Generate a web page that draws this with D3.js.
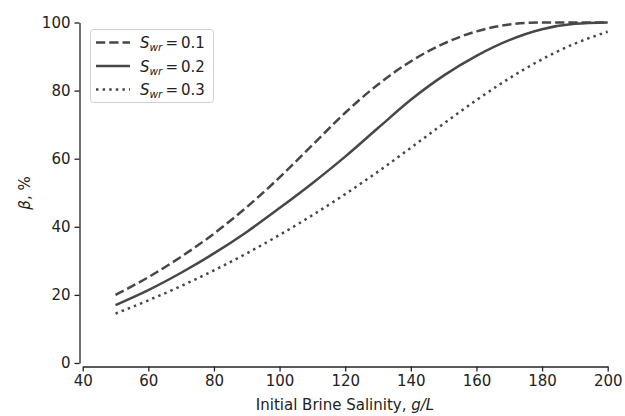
<!DOCTYPE html>
<html>
<head>
<meta charset="utf-8">
<script src="https://d3js.org/d3.v7.min.js"></script>
<style>
  body { margin: 0; background: #fff; }
  text { font-family: "DejaVu Sans", sans-serif; fill: #222; }
</style>
</head>
<body>
<div class="chart"></div>
<script>
// salinity, g/L
const salinity = [50, 60, 70, 80, 90, 100, 110, 120, 130, 140, 150, 160, 170, 180, 190, 200];
// beta, % for each residual water saturation
const betaSwr01 = [20, 25.2, 31.2, 38, 45.8, 54.5, 64, 73.5, 81.8, 88.6, 93.8, 97.4, 99.4, 100, 100, 100];
const betaSwr02 = [17, 21.4, 26.5, 32.2, 38.5, 45.5, 52.8, 60.6, 69, 77.3, 84.4, 90.2, 94.8, 98, 99.6, 100];
const betaSwr03 = [14.5, 18.4, 22.6, 27.2, 32.2, 37.6, 43.4, 49.6, 56.2, 63.2, 70.3, 77.2, 83.6, 89.2, 93.8, 97.3];

const xTicks = [40, 60, 80, 100, 120, 140, 160, 180, 200];
const yTicks = [0, 20, 40, 60, 80, 100];
const seriesNames = ["0.1", "0.2", "0.3"];
const seriesValues = [betaSwr01, betaSwr02, betaSwr03];
const dashes = ["9.25,4", null, "2.5,4.1"];

const width = 625, height = 416;
const color = "#474747";

const svg = d3.select(".chart").append("svg")
    .attr("width", width)
    .attr("height", height);

const x = d3.scaleLinear().domain([40, 200]).range([82.7, 607.7]);
const y = d3.scaleLinear().domain([0, 100]).range([363, 22.5]);

// axes, offset spines
const xAxis = svg.append("g")
    .attr("transform", "translate(0,366.5)")
    .call(d3.axisBottom(x).tickValues(xTicks).tickSize(5).tickPadding(4).tickSizeOuter(0));
const yAxis = svg.append("g")
    .attr("transform", "translate(79.5,0)")
    .call(d3.axisLeft(y).tickValues(yTicks).tickSize(5).tickPadding(4).tickSizeOuter(0));

[xAxis, yAxis].forEach(a => {
    a.select(".domain").attr("stroke", "#222").attr("stroke-width", 1.3);
    a.selectAll(".tick line").attr("stroke", "#222").attr("stroke-width", 1.3);
    a.selectAll(".tick text").style("font-size", "15px").style("font-family", "DejaVu Sans").attr("fill", "#222");
});

// axis titles
const xTitle = svg.append("text")
    .attr("x", 345)
    .attr("y", 410)
    .attr("text-anchor", "middle")
    .style("font-size", "15px");
xTitle.append("tspan").text("Initial Brine Salinity, ");
xTitle.append("tspan").style("font-style", "italic").text("g/L");

const yTitle = svg.append("text")
    .attr("transform", "translate(30,193) rotate(-90)")
    .attr("text-anchor", "middle")
    .style("font-size", "15px");
yTitle.append("tspan").style("font-style", "italic").text("β");
yTitle.append("tspan").text(", %");

// lines
const line = d3.line()
    .x((d, i) => x(salinity[i]))
    .y(d => y(d))
    .curve(d3.curveMonotoneX);

svg.append("g")
    .attr("class", "lines")
    .selectAll("path")
    .data(seriesValues)
    .enter().append("path")
    .attr("d", d => line(d))
    .attr("fill", "none")
    .attr("stroke", color)
    .attr("stroke-width", 2.5)
    .attr("stroke-dasharray", (d, i) => dashes[i]);

// legend
const legend = svg.append("g").attr("class", "legend");
legend.append("rect")
    .attr("x", 90.5).attr("y", 29.5)
    .attr("width", 123).attr("height", 73)
    .attr("rx", 3)
    .attr("fill", "#fff")
    .attr("stroke", "#d0d0d0")
    .attr("stroke-width", 1);

const rows = legend.selectAll(".row")
    .data(seriesNames)
    .enter().append("g")
    .attr("class", "row")
    .attr("transform", (d, i) => `translate(0,${42.5 + i * 23.5})`);

rows.append("line")
    .attr("x1", 96).attr("x2", 130)
    .attr("y1", 0).attr("y2", 0)
    .attr("stroke", color)
    .attr("stroke-width", 2.5)
    .attr("stroke-dasharray", (d, i) => dashes[i]);

const lt = rows.append("text")
    .attr("x", 140)
    .attr("y", 5.5)
    .style("font-size", "15px");
lt.append("tspan").style("font-style", "italic").text("S");
lt.append("tspan").style("font-style", "italic").style("font-size", "10.5px").attr("dy", 3).text("wr");
lt.append("tspan").attr("dy", -3).text(d => "\u2009=\u20090" + d.slice(1));
</script>
</body>
</html>
